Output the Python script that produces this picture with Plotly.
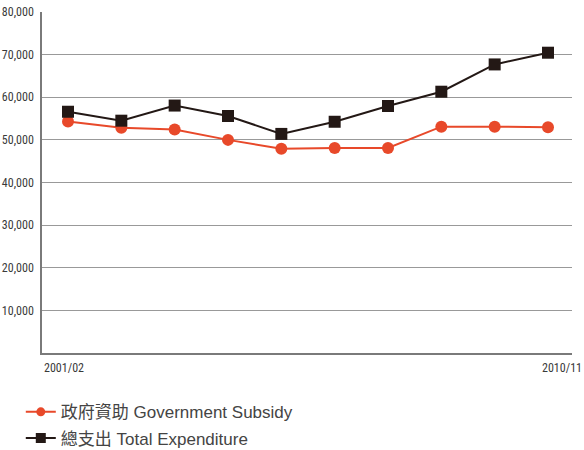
import plotly.graph_objects as go

years = ["2001/02", "2002/03", "2003/04", "2004/05", "2005/06",
         "2006/07", "2007/08", "2008/09", "2009/10", "2010/11"]
subsidy = [54300, 52850, 52450, 50000, 47900, 48100, 48100, 53100, 53100, 52950]
expenditure = [56600, 54500, 58050, 55600, 51400, 54250, 57950, 61300, 67700, 70450]
y_ticks = [10000, 20000, 30000, 40000, 50000, 60000, 70000, 80000]
x_labels = [years[0], years[-1]]
names = ["政府資助 Government Subsidy", "總支出 Total Expenditure"]

idx = list(range(len(years)))
RED = "#E8492A"
BLACK = "#231815"
tick_font = dict(family="Liberation Sans Narrow, Roboto Condensed, Arial Narrow, sans-serif",
                 size=12, color="#3a3a3a")

fig = go.Figure()
series = [(subsidy, RED, "circle", 9, "g1", names[0]),
          (expenditure, BLACK, "square", 10, "g2", names[1])]
for vals, col, sym, lsize, grp, nm in series:
    fig.add_trace(go.Scatter(
        x=idx, y=vals, mode="lines+markers", name=nm, showlegend=False, legendgroup=grp,
        line=dict(color=col, width=2), marker=dict(symbol=sym, size=12, color=col),
        customdata=years, hovertemplate="%{customdata}: %{y:,}<extra></extra>"))
    # legend entry with smaller marker, as in the reference
    fig.add_trace(go.Scatter(
        x=[None], y=[None], mode="lines+markers", name=nm, legendgroup=grp,
        line=dict(color=col, width=2), marker=dict(symbol=sym, size=lsize, color=col),
        hoverinfo="skip"))

fig.update_layout(
    width=584, height=450,
    margin=dict(l=42, r=12, t=12, b=97, autoexpand=False),
    paper_bgcolor="white", plot_bgcolor="white",
    showlegend=True,
    legend=dict(x=-0.04, y=-0.121, xanchor="left", yanchor="top",
                font=dict(family="Liberation Sans, Noto Sans CJK TC, sans-serif", size=17, color="#444444"),
                bgcolor="rgba(0,0,0,0)", tracegroupgap=1),
    xaxis=dict(range=[-0.4875, 9.45], showgrid=False, zeroline=False,
               showticklabels=False, ticks="", automargin=False,
               showline=True, linecolor="#7a7a7a", linewidth=1.5),
    yaxis=dict(range=[0, 80000], tickvals=y_ticks, tickformat=",d", automargin=False,
               showgrid=True, gridcolor="#999999", gridwidth=1.3,
               zeroline=False, showline=True, linecolor="#7a7a7a", linewidth=1.5,
               ticks="", tickfont=tick_font, ticklabelstandoff=4),
)

label_pos = [(0.0, "left", x_labels[0]), (1.0 + 12 / 530, "right", x_labels[1])]
for xv, anc, txt in label_pos:
    fig.add_annotation(x=xv, y=0, xref="paper", yref="paper", text=txt, showarrow=False,
                       xanchor=anc, yanchor="middle", yshift=-15, font=tick_font)

fig.write_html("out.html")
